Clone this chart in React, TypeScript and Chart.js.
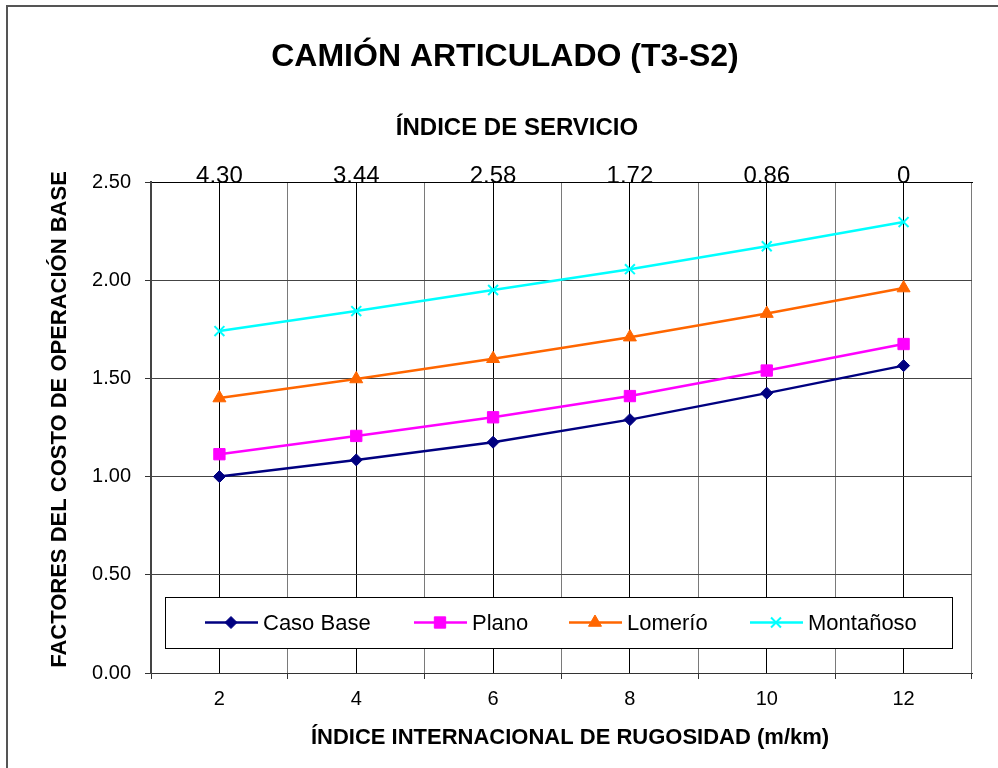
import React, { useEffect, useRef } from "react";
import { Chart, registerables } from "chart.js";
import { drawPoint } from "chart.js/helpers";

Chart.register(...registerables);

const FONT = 'Arial, "Liberation Sans", sans-serif';

const rugosidad = ["2", "4", "6", "8", "10", "12"];
const indiceServicio = ["4.30", "3.44", "2.58", "1.72", "0.86", "0"];

const casoBase = [1.0, 1.085, 1.175, 1.29, 1.425, 1.565];
const plano = [1.114, 1.207, 1.302, 1.41, 1.54, 1.675];
const lomerio = [1.4, 1.497, 1.6, 1.71, 1.83, 1.96];
const montanoso = [1.741, 1.843, 1.95, 2.056, 2.173, 2.296];

const mainTitle = "CAMIÓN ARTICULADO (T3-S2)";
const topAxisTitle = "ÍNDICE DE SERVICIO";
const bottomAxisTitle = "ÍNDICE INTERNACIONAL DE RUGOSIDAD (m/km)";
const yAxisTitle = "FACTORES DEL COSTO DE OPERACIÓN BASE";

const legendPlugin = {
  id: "insideLegend",
  afterDraw(chart: any) {
    const { ctx, chartArea } = chart;
    const left = chartArea.left + 14;
    const right = chartArea.right - 20;
    const bottom = chartArea.bottom - 25;
    const top = bottom - 51;
    ctx.save();
    ctx.fillStyle = "#fff";
    ctx.fillRect(left, top, right - left, bottom - top);
    ctx.strokeStyle = "#000";
    ctx.lineWidth = 1;
    ctx.strokeRect(left + 0.5, top + 0.5, right - left, bottom - top);
    const cy = (top + bottom) / 2;
    const starts = [left + 40, left + 249, left + 404, left + 585];
    ctx.font = `22px ${FONT}`;
    ctx.textBaseline = "middle";
    chart.data.datasets.forEach((ds: any, i: number) => {
      const x0 = starts[i];
      ctx.strokeStyle = ds.borderColor;
      ctx.lineWidth = 2.5;
      ctx.beginPath();
      ctx.moveTo(x0, cy);
      ctx.lineTo(x0 + 53, cy);
      ctx.stroke();
      ctx.fillStyle = ds.pointBackgroundColor;
      ctx.strokeStyle = ds.pointBorderColor;
      ctx.lineWidth = ds.pointBorderWidth;
      drawPoint(ctx, { pointStyle: ds.pointStyle, radius: ds.pointRadius, borderWidth: ds.pointBorderWidth, rotation: 0 }, x0 + 26, cy);
      ctx.fillStyle = "#000";
      ctx.fillText(ds.label, x0 + 58, cy + 1);
    });
    ctx.restore();
  },
};

const titlesPlugin = {
  id: "titles",
  afterDraw(chart: any) {
    const { ctx, chartArea } = chart;
    ctx.save();
    ctx.fillStyle = "#000";
    ctx.textAlign = "center";
    ctx.textBaseline = "middle";
    ctx.font = `bold 32px ${FONT}`;
    ctx.fillText(mainTitle, 505, 57);
    ctx.font = `bold 24px ${FONT}`;
    ctx.fillText(topAxisTitle, 517, 128);
    ctx.font = `bold 22px ${FONT}`;
    ctx.fillText(bottomAxisTitle, 570, 738);
    ctx.translate(60, (chartArea.top + chartArea.bottom) / 2 - 8);
    ctx.rotate(-Math.PI / 2);
    ctx.font = `bold 22px ${FONT}`;
    ctx.fillText(yAxisTitle, 0, 0);
    ctx.restore();
  },
};

const frame = {
  id: "frame",
  afterDraw(chart: any) {
    const { ctx, width, height } = chart;
    ctx.save();
    ctx.strokeStyle = "#555";
    ctx.lineWidth = 2;
    ctx.beginPath();
    ctx.moveTo(7, height);
    ctx.lineTo(7, 6);
    ctx.lineTo(width, 6);
    ctx.stroke();
    ctx.restore();
  },
};

export default function App() {
  const ref = useRef<HTMLCanvasElement | null>(null);
  useEffect(() => {
    document.body.style.margin = "0";
    Chart.defaults.color = "#000";
    Chart.defaults.font.family = FONT;
    const mk = (label: string, data: number[], color: string, style: string, r: number, bw: number) => ({
      label,
      data,
      borderColor: color,
      backgroundColor: color,
      borderWidth: 2.5,
      pointStyle: style,
      pointRadius: r,
      pointHoverRadius: r,
      pointBackgroundColor: color,
      pointBorderColor: color,
      pointBorderWidth: bw,
      tension: 0,
    });
    const chart = new Chart(ref.current as HTMLCanvasElement, {
      type: "line",
      data: {
        labels: rugosidad,
        datasets: [
          mk("Caso Base", casoBase, "#000080", "rectRot", 6, 1),
          mk("Plano", plano, "#FF00FF", "rect", 8, 1),
          mk("Lomerío", lomerio, "#FF6600", "triangle", 7.5, 1),
          mk("Montañoso", montanoso, "#00FFFF", "crossRot", 7, 2),
        ] as any,
      },
      options: {
        animation: false,
        responsive: false,
        layout: { padding: { left: 0, right: 26, top: 63, bottom: 0 } },
        plugins: {
          legend: { display: false },
          tooltip: { enabled: false },
          title: { display: false },
        },
        scales: {
          x: {
            type: "category",
            position: "bottom",
            offset: true,
            grid: { offset: true, color: "#7a7a7a", lineWidth: 1, drawTicks: true, tickLength: 6, tickColor: "#333" },
            border: { color: "#333", width: 1 },
            ticks: { font: { size: 20, family: FONT }, padding: 8, color: "#000", maxRotation: 0 },
            title: { display: false },
            afterFit(scale: any) {
              scale.height = 95;
            },
          },
          x2: {
            type: "category",
            position: "top",
            labels: indiceServicio,
            offset: true,
            grid: { offset: false, color: "#000", lineWidth: 1, drawTicks: false },
            border: { color: "#000", width: 1 },
            ticks: { font: { size: 24, family: FONT }, padding: -9, color: "#000", maxRotation: 0 },
            title: { display: false },
            afterFit(scale: any) {
              scale.height = 119;
            },
          },
          y: {
            min: 0,
            max: 2.5,
            ticks: {
              stepSize: 0.5,
              font: { size: 20, family: FONT },
              padding: 14,
              color: "#000",
              callback: (v: any) => Number(v).toFixed(2),
            },
            grid: { color: "#444", lineWidth: 1, tickLength: 6, tickColor: "#333" },
            border: { color: "#444", width: 2 },
            title: { display: false },
            afterFit(scale: any) {
              scale.width = 151;
            },
          },
        },
      } as any,
      plugins: [legendPlugin, titlesPlugin, frame],
    });
    return () => chart.destroy();
  }, []);
  return (
    <div style={{ width: 998, height: 768, background: "#fff" }}>
      <canvas ref={ref} width={998} height={768} style={{ display: "block", width: 998, height: 768 }} />
    </div>
  );
}
